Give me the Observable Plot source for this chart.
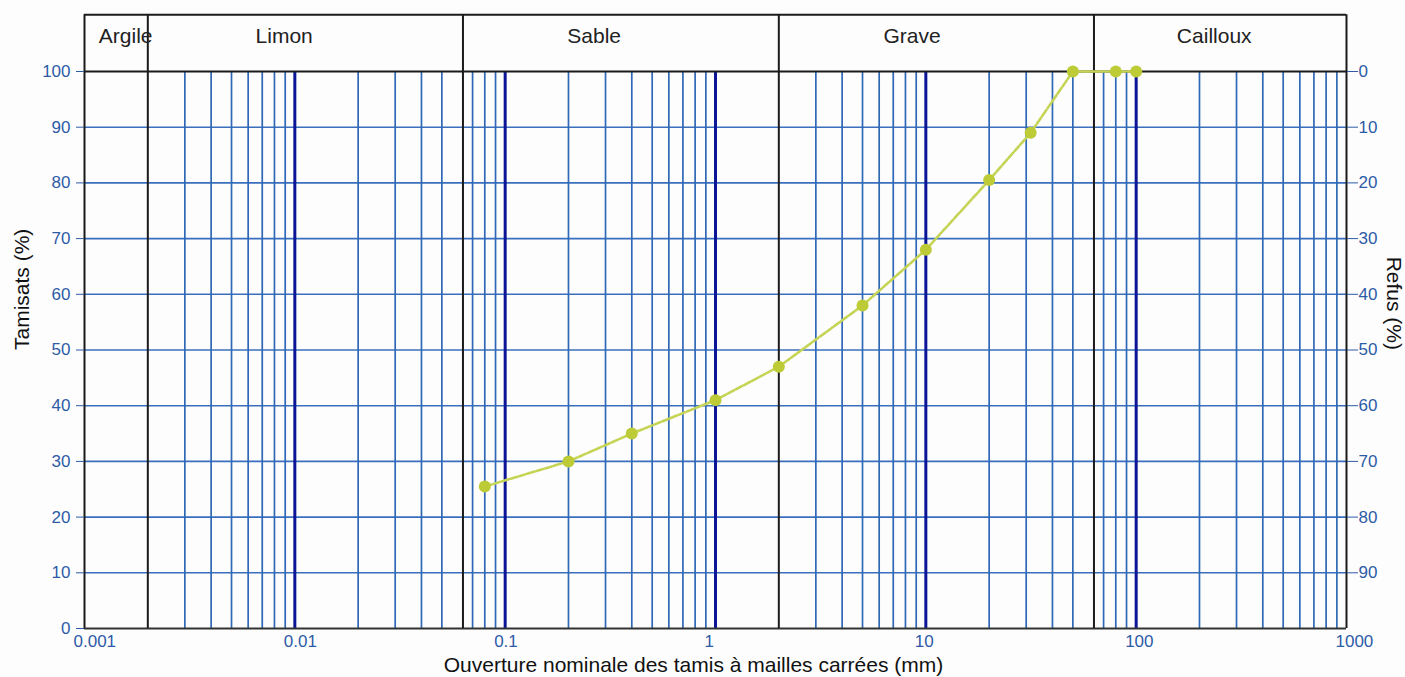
<!DOCTYPE html>
<html>
<head>
<meta charset="utf-8">
<script src="https://cdn.jsdelivr.net/npm/d3@7"></script>
<script src="https://cdn.jsdelivr.net/npm/@observablehq/plot@0.6"></script>
<style>
  html, body { margin: 0; padding: 0; background: #fdfdfe; }
  #chart svg { display: block; }
</style>
</head>
<body>
<div id="chart"></div>
<script>
// Courbe granulométrique : tamisats cumulés en fonction de l'ouverture des tamis
const sieveSizes = [0.08, 0.2, 0.4, 1, 2, 5, 10, 20, 31.5, 50, 80, 100];   // mm
const passingPct = [25.5, 30, 35, 41, 47, 58, 68, 80.5, 89, 100, 100, 100]; // %

// Classes granulométriques (bornes en mm)
const zoneNames = ["Argile", "Limon", "Sable", "Grave", "Cailloux"];
const zoneBounds = [0.001, 0.002, 0.063, 2, 63, 1000];
const zoneLabelAt = [0.00157, 0.0089, 0.265, 8.6, 235];

// Graduations
const xTickValues = [0.001, 0.01, 0.1, 1, 10, 100, 1000];
const xTickLabels = ["0.001", "0.01", "0.1", "1", "10", "100", "1000"];
const yTickValues = [0, 10, 20, 30, 40, 50, 60, 70, 80, 90, 100];
const refusTickValues = [10, 20, 30, 40, 50, 60, 70, 80, 90, 100];

const curve = sieveSizes.map((d, i) => ({size: d, pass: passingPct[i]}));
const zones = zoneNames.map((name, i) => ({name, at: zoneLabelAt[i]}));
const xTicks = xTickValues.map((v, i) => ({v, label: xTickLabels[i]}));

// Quadrillage logarithmique : décades épaisses, sous-graduations 2..9 fines
const majorLines = xTickValues.slice(1, -1);
const minorLines = [];
for (const decade of [0.001, 0.01, 0.1, 1, 10, 100]) {
  for (let k = 2; k <= 9; k++) {
    const v = +(k * decade).toPrecision(3);
    const nearBound = zoneBounds.some(b => Math.abs(Math.log10(v / b)) < 0.03);
    if (!nearBound) minorLines.push(v);
  }
}

const bandTop = 110.2; // bord supérieur du bandeau des classes (en % de l'axe)
const xMin = zoneBounds[0];
const xMax = zoneBounds[zoneBounds.length - 1];
const gridBlue = "#2f68b6";
const hGridBlue = "#3a6fbe";
const navy = "#0b1596";
const tickBlue = "#2d5ba6";
const ink = "#1b1b1b";

const chart = Plot.plot({
  width: 1405,
  height: 677,
  marginLeft: 84,
  marginRight: 59,
  marginTop: 71,
  marginBottom: 49,
  style: {
    fontFamily: "'Liberation Sans', Arial, sans-serif",
    fontSize: "17px",
    background: "#fdfdfe"
  },
  x: {type: "log", domain: [xMin, xMax], axis: null},
  y: {domain: [0, 100], axis: null},
  marks: [
    // quadrillage horizontal
    Plot.ruleY(yTickValues.slice(1, -1), {stroke: hGridBlue, strokeWidth: 1.6}),
    // quadrillage vertical
    Plot.ruleX(minorLines, {y1: 0, y2: 100, stroke: gridBlue, strokeWidth: 1.7}),
    Plot.ruleX(majorLines, {y1: 0, y2: 100, stroke: navy, strokeWidth: 3}),
    // cadre et bandeau des classes
    Plot.ruleY([0], {stroke: "#333", strokeWidth: 2}),
    Plot.ruleY([100, bandTop], {stroke: ink, strokeWidth: 2}),
    Plot.ruleX(zoneBounds, {y1: 0, y2: bandTop, stroke: ink, strokeWidth: 2}),
    Plot.text(zones, {x: "at", y: 106.3, text: "name", fontSize: 21, fill: "#222"}),
    // traits de graduation
    Plot.axisY(yTickValues, {
      anchor: "left", tickSize: 8, stroke: tickBlue, tickFormat: () => "", label: null
    }),
    Plot.axisY(refusTickValues, {
      anchor: "right", tickSize: 11, stroke: tickBlue, tickFormat: () => "", label: null
    }),
    // étiquettes des graduations
    Plot.text(yTickValues, {
      x: xMin, y: d => d, text: d => String(d), textAnchor: "end", dx: -14,
      fontSize: 17, fill: tickBlue
    }),
    Plot.text(refusTickValues, {
      x: xMax, y: d => d, text: d => String(100 - d), textAnchor: "start", dx: 12,
      fontSize: 17, fill: tickBlue
    }),
    Plot.text(xTicks, {
      x: "v", y: 0, text: "label", textAnchor: "start", dx: -11, dy: 13,
      fontSize: 17, fill: tickBlue
    }),
    // titres des axes
    Plot.text(["Ouverture nominale des tamis à mailles carrées (mm)"], {
      frameAnchor: "bottom", lineAnchor: "middle", dy: 37, dx: -22,
      fontSize: 21, fill: "#111"
    }),
    Plot.text(["Tamisats (%)"], {
      frameAnchor: "left", dx: -62, rotate: -90, fontSize: 21, fill: "#111"
    }),
    Plot.text(["Refus (%)"], {
      frameAnchor: "right", dx: 47, rotate: 90, fontSize: 21, fill: "#111"
    }),
    // courbe granulométrique
    Plot.line(curve, {
      x: "size", y: "pass", stroke: "#c6d455", strokeWidth: 2.6,
      strokeDasharray: "7,2"
    }),
    Plot.dot(curve, {x: "size", y: "pass", r: 6, fill: "#bccb36", stroke: "none"})
  ]
});

document.getElementById("chart").append(chart);
</script>
</body>
</html>
